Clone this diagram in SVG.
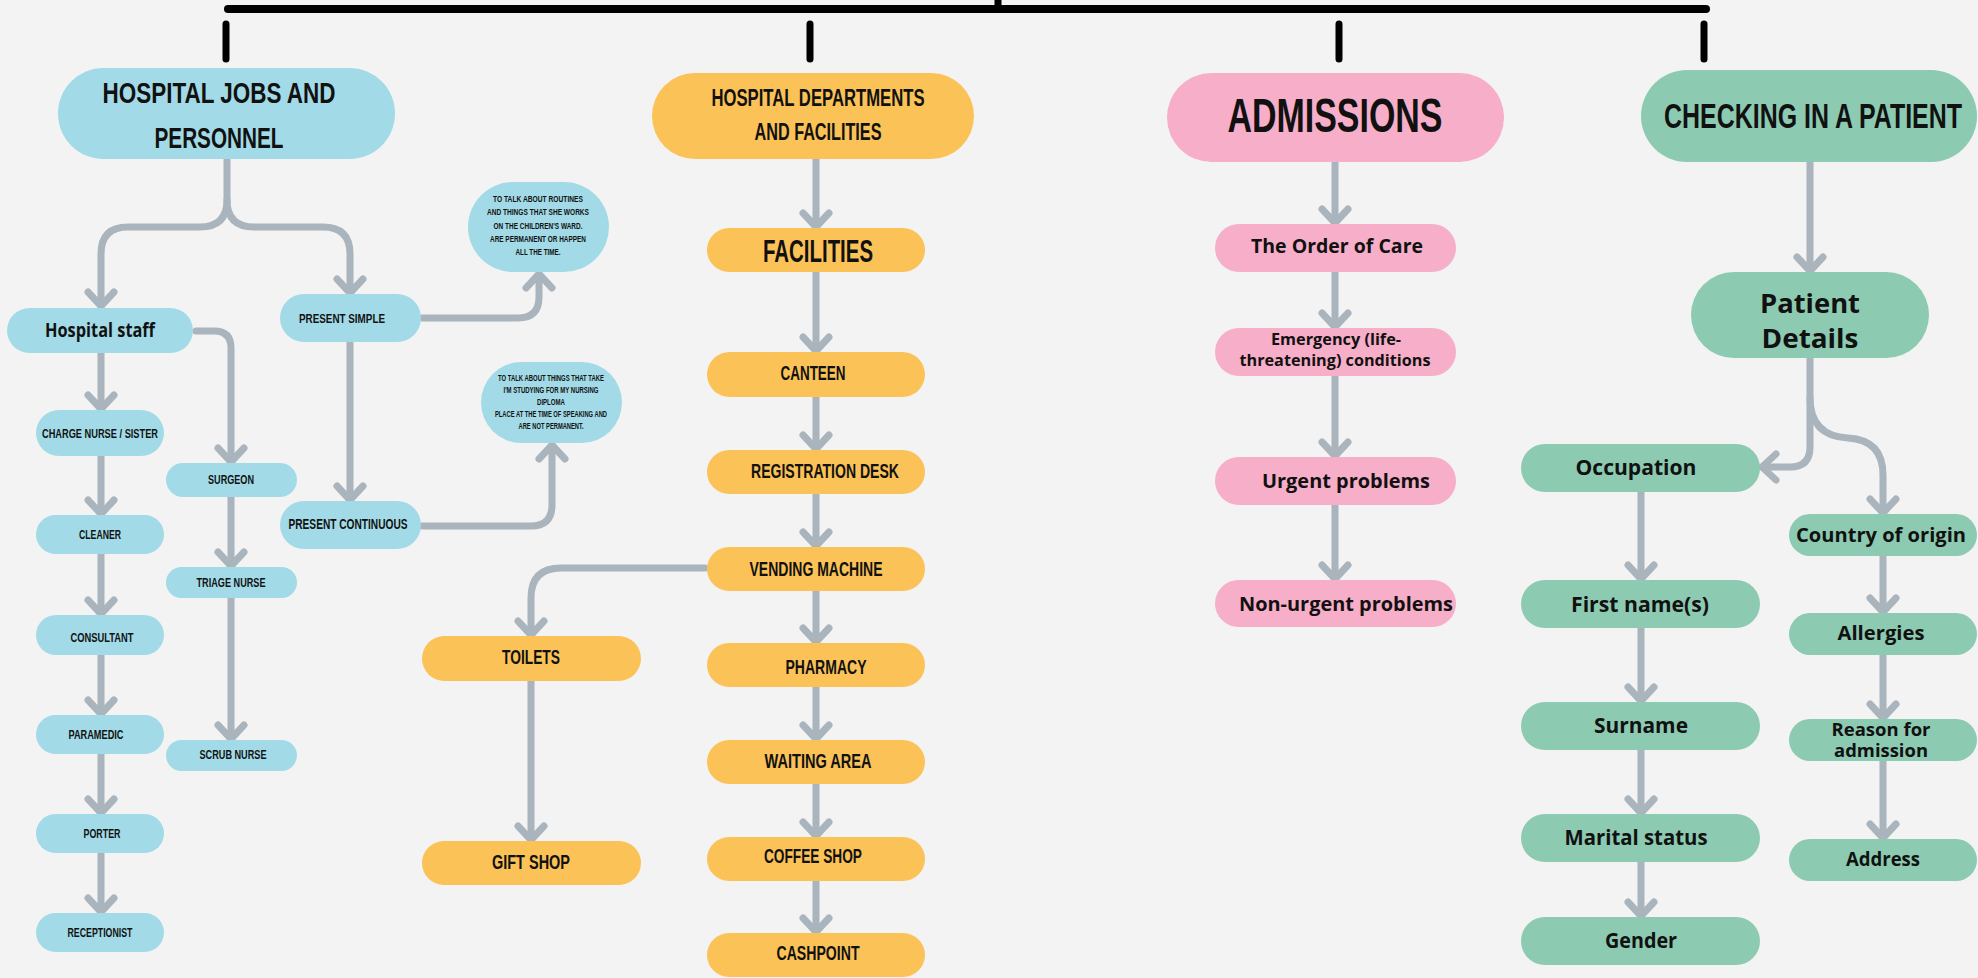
<svg xmlns="http://www.w3.org/2000/svg" width="1978" height="978" viewBox="0 0 1978 978">
<style>
.blue{fill:#a2dbe7}
.orange{fill:#fbc257}
.pink{fill:#f7aec8}
.green{fill:#8ccab1}
.cap{font-family:"Liberation Sans","DejaVu Sans",sans-serif;font-weight:700;fill:#111;text-anchor:middle}
.bold{font-family:"Open Sans","Liberation Sans",sans-serif;font-weight:700;fill:#111;text-anchor:middle}
.conn path{fill:none;stroke:#a9b4bc;stroke-width:7;stroke-linecap:round;stroke-linejoin:round;marker-end:url(#arrow)}
.bar{stroke:#000;stroke-linecap:round;fill:none}
</style>
<defs>
<marker id="arrow" markerUnits="userSpaceOnUse" viewBox="-20 -20 40 40" markerWidth="40" markerHeight="40" refX="0" refY="0" orient="auto" overflow="visible">
<path d="M-14,-13 L0,0 L-14,13" fill="none" stroke="#a9b4bc" stroke-width="7" stroke-linecap="round" stroke-linejoin="round"/>
</marker>
</defs>
<rect x="0" y="0" width="1978" height="978" fill="#f3f3f3"/>

<g id="topbar">
<line class="bar" x1="228" y1="9" x2="1706" y2="9" stroke-width="8"/>
<line class="bar" x1="998" y1="0" x2="998" y2="8" stroke-width="7" stroke-linecap="butt"/>
<line class="bar" x1="226" y1="24" x2="226" y2="59" stroke-width="7"/>
<line class="bar" x1="810" y1="24" x2="810" y2="59" stroke-width="7"/>
<line class="bar" x1="1339" y1="24" x2="1339" y2="59" stroke-width="7"/>
<line class="bar" x1="1704" y1="24" x2="1704" y2="59" stroke-width="7"/>
</g>

<g class="conn" id="connectors">
<path d="M227,160 L227,200 Q227,227 254,227 L323,227 Q350,227 350,254 L350,293"/>
<path d="M227,200 Q227,227 200,227 L128,227 Q101,227 101,254 L101,306"/>
<path d="M422,318 L518,318 Q539,318 539,297 L539,274"/>
<path d="M350,342 L350,500"/>
<path d="M422,526 L531,526 Q552,526 552,505 L552,445"/>
<path d="M196,331 L214,331 Q231,331 231,348 L231,462"/>
<path d="M101,353 L101,409"/>
<path d="M101,456 L101,514"/>
<path d="M101,554 L101,614"/>
<path d="M101,655 L101,714"/>
<path d="M101,754 L101,813"/>
<path d="M101,853 L101,912"/>
<path d="M231,497 L231,566"/>
<path d="M231,598 L231,739"/>
<path d="M816,159 L816,227"/>
<path d="M816,272 L816,351"/>
<path d="M816,397 L816,449"/>
<path d="M816,494 L816,546"/>
<path d="M816,591 L816,642"/>
<path d="M816,687 L816,739"/>
<path d="M816,784 L816,836"/>
<path d="M816,881 L816,932"/>
<path d="M705,568 L561,568 Q531,568 531,598 L531,635"/>
<path d="M531,681 L531,840"/>
<path d="M1335,163 L1335,223"/>
<path d="M1335,272 L1335,327"/>
<path d="M1335,376 L1335,456"/>
<path d="M1335,505 L1335,579"/>
<path d="M1810,162 L1810,271"/>
<path d="M1810,358 L1810,447 Q1810,467 1790,467 L1762,467"/>
<path d="M1810,398 Q1810,436 1848,438 Q1883,440 1883,475 L1883,513"/>
<path d="M1641,492 L1641,579"/>
<path d="M1641,628 L1641,701"/>
<path d="M1641,750 L1641,813"/>
<path d="M1641,862 L1641,916"/>
<path d="M1883,556 L1883,612"/>
<path d="M1883,655 L1883,718"/>
<path d="M1883,761 L1883,838"/>
</g>

<g id="hospital-jobs">
<rect class="blue" x="58" y="68" width="337" height="91" rx="45.5"/>
<text class="cap" x="219" y="103" font-size="29" textLength="233" lengthAdjust="spacingAndGlyphs">HOSPITAL JOBS AND</text>
<text class="cap" x="219" y="148" font-size="29" textLength="129" lengthAdjust="spacingAndGlyphs">PERSONNEL</text>
</g>
<g id="hospital-staff">
<rect class="blue" x="7" y="308" width="186" height="45" rx="22.5"/>
<text class="bold" x="100" y="337" font-size="19" textLength="110" lengthAdjust="spacingAndGlyphs">Hospital staff</text>
</g>
<g id="charge-nurse">
<rect class="blue" x="36" y="410" width="128" height="46" rx="23"/>
<text class="cap" x="100" y="438" font-size="13" textLength="116" lengthAdjust="spacingAndGlyphs">CHARGE NURSE / SISTER</text>
</g>
<g id="cleaner">
<rect class="blue" x="36" y="515" width="128" height="39" rx="19.5"/>
<text class="cap" x="100" y="539" font-size="13" textLength="42" lengthAdjust="spacingAndGlyphs">CLEANER</text>
</g>
<g id="consultant">
<rect class="blue" x="36" y="615" width="128" height="40" rx="20"/>
<text class="cap" x="102" y="642" font-size="13" textLength="63" lengthAdjust="spacingAndGlyphs">CONSULTANT</text>
</g>
<g id="paramedic">
<rect class="blue" x="36" y="715" width="128" height="39" rx="19.5"/>
<text class="cap" x="96" y="739" font-size="13" textLength="55" lengthAdjust="spacingAndGlyphs">PARAMEDIC</text>
</g>
<g id="porter">
<rect class="blue" x="36" y="814" width="128" height="39" rx="19.5"/>
<text class="cap" x="102" y="838" font-size="13" textLength="37" lengthAdjust="spacingAndGlyphs">PORTER</text>
</g>
<g id="receptionist">
<rect class="blue" x="36" y="913" width="128" height="39" rx="19.5"/>
<text class="cap" x="100" y="937" font-size="13" textLength="65" lengthAdjust="spacingAndGlyphs">RECEPTIONIST</text>
</g>
<g id="surgeon">
<rect class="blue" x="166" y="463" width="131" height="34" rx="17"/>
<text class="cap" x="231" y="484" font-size="13" textLength="46" lengthAdjust="spacingAndGlyphs">SURGEON</text>
</g>
<g id="triage-nurse">
<rect class="blue" x="166" y="567" width="131" height="31" rx="15.5"/>
<text class="cap" x="231" y="587" font-size="13" textLength="69" lengthAdjust="spacingAndGlyphs">TRIAGE NURSE</text>
</g>
<g id="scrub-nurse">
<rect class="blue" x="166" y="740" width="131" height="31" rx="15.5"/>
<text class="cap" x="233" y="759" font-size="13" textLength="67" lengthAdjust="spacingAndGlyphs">SCRUB NURSE</text>
</g>
<g id="present-simple">
<rect class="blue" x="280" y="294" width="141" height="48" rx="24"/>
<text class="cap" x="342" y="323" font-size="13" textLength="86" lengthAdjust="spacingAndGlyphs">PRESENT SIMPLE</text>
</g>
<g id="present-continuous">
<rect class="blue" x="280" y="501" width="141" height="48" rx="24"/>
<text class="cap" x="348" y="529" font-size="14" textLength="119" lengthAdjust="spacingAndGlyphs">PRESENT CONTINUOUS</text>
</g>
<g id="bubble-simple">
<rect class="blue" x="468" y="182" width="141" height="90" rx="45"/>
<text class="cap" x="538" y="202" font-size="9" textLength="90" lengthAdjust="spacingAndGlyphs">TO TALK ABOUT ROUTINES</text>
<text class="cap" x="538" y="215" font-size="9" textLength="102" lengthAdjust="spacingAndGlyphs">AND THINGS THAT SHE WORKS</text>
<text class="cap" x="538" y="229" font-size="9" textLength="89" lengthAdjust="spacingAndGlyphs">ON THE CHILDREN'S WARD.</text>
<text class="cap" x="538" y="242" font-size="9" textLength="96" lengthAdjust="spacingAndGlyphs">ARE PERMANENT OR HAPPEN</text>
<text class="cap" x="538" y="255" font-size="9" textLength="45" lengthAdjust="spacingAndGlyphs">ALL THE TIME.</text>
</g>
<g id="bubble-continuous">
<rect class="blue" x="481" y="362" width="141" height="81" rx="40.5"/>
<text class="cap" x="551" y="381" font-size="9" textLength="106" lengthAdjust="spacingAndGlyphs">TO TALK ABOUT THINGS THAT TAKE</text>
<text class="cap" x="551" y="393" font-size="9" textLength="95" lengthAdjust="spacingAndGlyphs">I'M STUDYING FOR MY NURSING</text>
<text class="cap" x="551" y="405" font-size="9" textLength="28" lengthAdjust="spacingAndGlyphs">DIPLOMA</text>
<text class="cap" x="551" y="417" font-size="9" textLength="112" lengthAdjust="spacingAndGlyphs">PLACE AT THE TIME OF SPEAKING AND</text>
<text class="cap" x="551" y="429" font-size="9" textLength="65" lengthAdjust="spacingAndGlyphs">ARE NOT PERMANENT.</text>
</g>

<g id="departments">
<rect class="orange" x="652" y="73" width="322" height="86" rx="43"/>
<text class="cap" x="818" y="106" font-size="24" textLength="213" lengthAdjust="spacingAndGlyphs">HOSPITAL DEPARTMENTS</text>
<text class="cap" x="818" y="140" font-size="24" textLength="127" lengthAdjust="spacingAndGlyphs">AND FACILITIES</text>
</g>
<g id="facilities">
<rect class="orange" x="707" y="228" width="218" height="44" rx="22"/>
<text class="cap" x="818" y="262" font-size="31" textLength="110" lengthAdjust="spacingAndGlyphs">FACILITIES</text>
</g>
<g id="canteen">
<rect class="orange" x="707" y="352" width="218" height="45" rx="22.5"/>
<text class="cap" x="813" y="380" font-size="20" textLength="65" lengthAdjust="spacingAndGlyphs">CANTEEN</text>
</g>
<g id="registration-desk">
<rect class="orange" x="707" y="450" width="218" height="44" rx="22"/>
<text class="cap" x="825" y="478" font-size="20" textLength="148" lengthAdjust="spacingAndGlyphs">REGISTRATION DESK</text>
</g>
<g id="vending-machine">
<rect class="orange" x="707" y="547" width="218" height="44" rx="22"/>
<text class="cap" x="816" y="576" font-size="20" textLength="133" lengthAdjust="spacingAndGlyphs">VENDING MACHINE</text>
</g>
<g id="pharmacy">
<rect class="orange" x="707" y="643" width="218" height="44" rx="22"/>
<text class="cap" x="826" y="674" font-size="20" textLength="81" lengthAdjust="spacingAndGlyphs">PHARMACY</text>
</g>
<g id="waiting-area">
<rect class="orange" x="707" y="740" width="218" height="44" rx="22"/>
<text class="cap" x="818" y="768" font-size="20" textLength="107" lengthAdjust="spacingAndGlyphs">WAITING AREA</text>
</g>
<g id="coffee-shop">
<rect class="orange" x="707" y="837" width="218" height="44" rx="22"/>
<text class="cap" x="813" y="863" font-size="20" textLength="98" lengthAdjust="spacingAndGlyphs">COFFEE SHOP</text>
</g>
<g id="cashpoint">
<rect class="orange" x="707" y="933" width="218" height="44" rx="22"/>
<text class="cap" x="818" y="960" font-size="20" textLength="83" lengthAdjust="spacingAndGlyphs">CASHPOINT</text>
</g>
<g id="toilets">
<rect class="orange" x="422" y="636" width="219" height="45" rx="22.5"/>
<text class="cap" x="531" y="664" font-size="20" textLength="58" lengthAdjust="spacingAndGlyphs">TOILETS</text>
</g>
<g id="gift-shop">
<rect class="orange" x="422" y="841" width="219" height="44" rx="22"/>
<text class="cap" x="531" y="869" font-size="20" textLength="78" lengthAdjust="spacingAndGlyphs">GIFT SHOP</text>
</g>

<g id="admissions">
<rect class="pink" x="1167" y="73" width="337" height="89" rx="44.5"/>
<text class="cap" x="1335" y="132" font-size="48" textLength="215" lengthAdjust="spacingAndGlyphs">ADMISSIONS</text>
</g>
<g id="order-of-care">
<rect class="pink" x="1215" y="224" width="241" height="48" rx="24"/>
<text class="bold" x="1337" y="253" font-size="19" textLength="172" lengthAdjust="spacingAndGlyphs">The Order of Care</text>
</g>
<g id="emergency">
<rect class="pink" x="1215" y="328" width="241" height="48" rx="24"/>
<text class="bold" x="1336" y="345" font-size="16" textLength="130" lengthAdjust="spacingAndGlyphs">Emergency (life-</text>
<text class="bold" x="1335" y="366" font-size="16" textLength="191" lengthAdjust="spacingAndGlyphs">threatening) conditions</text>
</g>
<g id="urgent">
<rect class="pink" x="1215" y="457" width="241" height="48" rx="24"/>
<text class="bold" x="1346" y="488" font-size="19" textLength="168" lengthAdjust="spacingAndGlyphs">Urgent problems</text>
</g>
<g id="non-urgent">
<rect class="pink" x="1215" y="580" width="241" height="47" rx="23.5"/>
<text class="bold" x="1346" y="611" font-size="19" textLength="214" lengthAdjust="spacingAndGlyphs">Non-urgent problems</text>
</g>

<g id="checking-in">
<rect class="green" x="1641" y="70" width="336" height="92" rx="46"/>
<text class="cap" transform="translate(1813,128) scale(0.685,1)" x="0" y="0" font-size="35" textLength="435" lengthAdjust="spacingAndGlyphs">CHECKING IN A PATIENT</text>
</g>
<g id="patient-details">
<rect class="green" x="1691" y="272" width="238" height="86" rx="43"/>
<text class="bold" x="1810" y="313" font-size="27" textLength="100" lengthAdjust="spacingAndGlyphs">Patient</text>
<text class="bold" x="1810" y="348" font-size="27" textLength="97" lengthAdjust="spacingAndGlyphs">Details</text>
</g>
<g id="occupation">
<rect class="green" x="1521" y="444" width="239" height="48" rx="24"/>
<text class="bold" x="1636" y="475" font-size="21" textLength="121" lengthAdjust="spacingAndGlyphs">Occupation</text>
</g>
<g id="first-name">
<rect class="green" x="1521" y="580" width="239" height="48" rx="24"/>
<text class="bold" x="1640" y="612" font-size="21" textLength="138" lengthAdjust="spacingAndGlyphs">First name(s)</text>
</g>
<g id="surname">
<rect class="green" x="1521" y="702" width="239" height="48" rx="24"/>
<text class="bold" x="1641" y="733" font-size="21" textLength="94" lengthAdjust="spacingAndGlyphs">Surname</text>
</g>
<g id="marital-status">
<rect class="green" x="1521" y="814" width="239" height="48" rx="24"/>
<text class="bold" x="1636" y="845" font-size="21" textLength="143" lengthAdjust="spacingAndGlyphs">Marital status</text>
</g>
<g id="gender">
<rect class="green" x="1521" y="917" width="239" height="48" rx="24"/>
<text class="bold" x="1641" y="948" font-size="21" textLength="72" lengthAdjust="spacingAndGlyphs">Gender</text>
</g>
<g id="country">
<rect class="green" x="1789" y="514" width="188" height="42" rx="21"/>
<text class="bold" x="1881" y="542" font-size="20" textLength="170" lengthAdjust="spacingAndGlyphs">Country of origin</text>
</g>
<g id="allergies">
<rect class="green" x="1789" y="613" width="188" height="42" rx="21"/>
<text class="bold" x="1881" y="640" font-size="20" textLength="87" lengthAdjust="spacingAndGlyphs">Allergies</text>
</g>
<g id="reason">
<rect class="green" x="1789" y="719" width="188" height="42" rx="21"/>
<text class="bold" x="1881" y="736" font-size="17" textLength="99" lengthAdjust="spacingAndGlyphs">Reason for</text>
<text class="bold" x="1881" y="757" font-size="17" textLength="94" lengthAdjust="spacingAndGlyphs">admission</text>
</g>
<g id="address">
<rect class="green" x="1789" y="839" width="188" height="42" rx="21"/>
<text class="bold" x="1883" y="866" font-size="20" textLength="74" lengthAdjust="spacingAndGlyphs">Address</text>
</g>
</svg>
